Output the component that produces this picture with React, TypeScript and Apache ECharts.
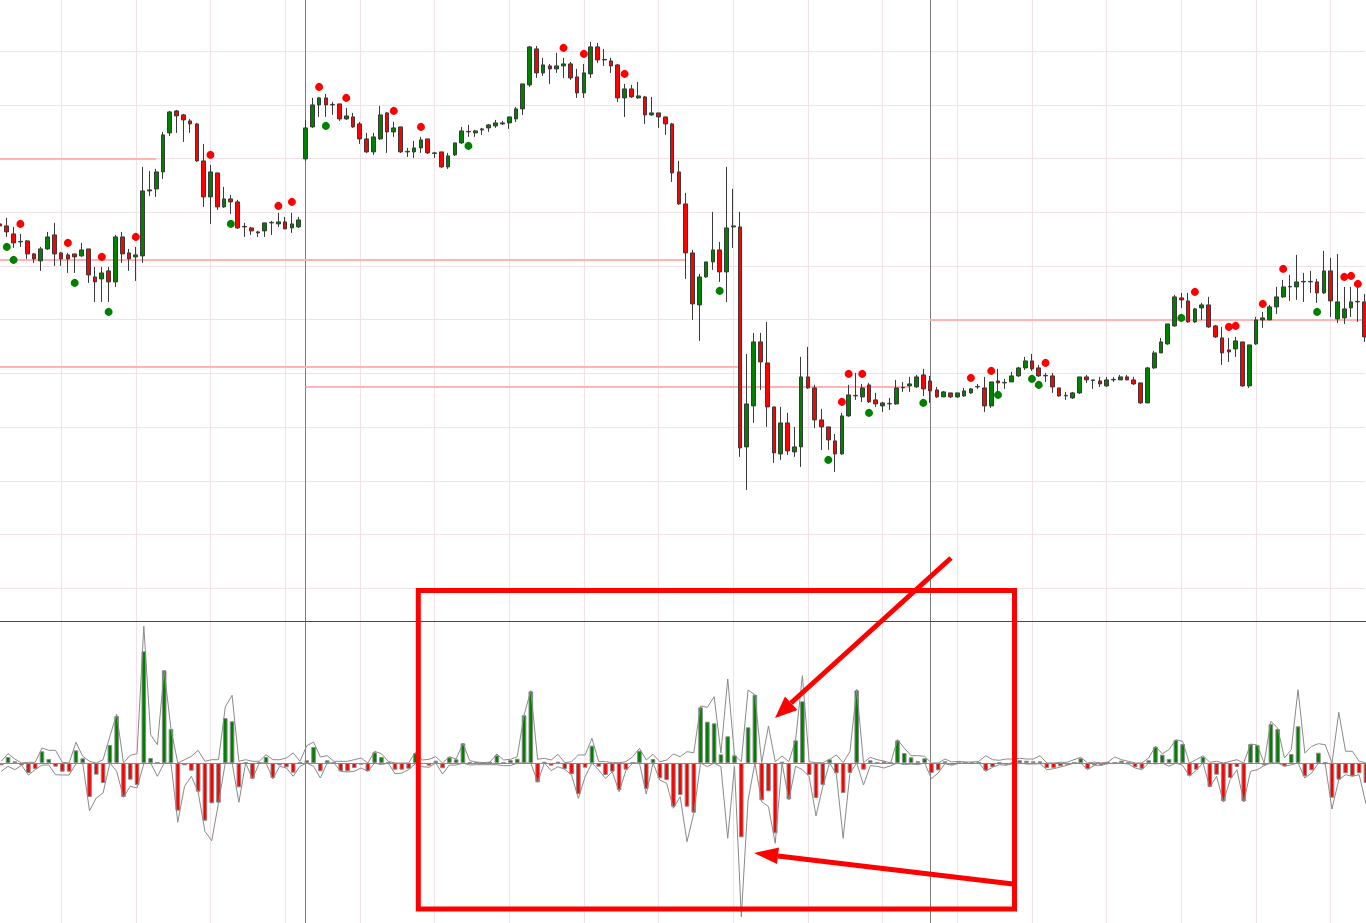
import React, { useEffect, useRef } from 'react';
import * as echarts from 'echarts';

// bar numbers
const barLabels: string[] = Array.from({ length: 202 }, (_, i) => String(i));

// [open, close, low, high]
const ohlc: number[][] = [
 [418,416,415,419],[416,410,405,424],[408,399,394,415],[400.5,400,395,408],[401,388,383,402],
 [388,383,379,389],[381,393,371,395],[393,405,392,410],[407,388,376,419],[389,383,376,390],
 [387,383,369,389],[388,385,369,388],[386,392,385,399],[393,367,359,393],[365,360,340,375],
 [363,369,340,375],[371,360,340,375],[360,405,355,407],[405,388,379,410],[389,383,371,393],
 [385,387,361,395],[386,451,379,475],[451,452,446,471],[453,470,445,473],[470,507,463,510],
 [509,530,506,531],[531,526,509,532],[527,522,500,528],[521,518,509,523],[518,481,480,519],
 [481,445,435,498],[445,470,418,477],[469,435,432,469],[435,443,434,455],[443,440,428,447],
 [440,414,413,442],[415,415.5,405,419],[414,411,407,415],[410,409,405,411],[411,419,405,419],
 [419,419.5,407,421],[418,420,415,429],[420,413,413,425],[414,418,409,429],[415,422,414,425],
 [483,514,481,522],[515,537,514,544],[537,544,525,545],[544,537,525,548],[537,537.5,527,540],
 [538,523,521,538],[523,526,522,534],[525,515,514,529],[518,503,498,520],[503,490,489,509],
 [490,505,487,509],[503,527,502,536],[529,510,489,530],[510,514,505,520],[515,490,489,515],
 [490,490.5,485,494],[490,494,484,501],[494,502,489,505],[503,489,488,503],[489,488.5,484,490],
 [490,475,474,490],[475,486,473,489],[487,499,486,499],[499,511,498,515],[510,510.5,505,517],
 [509,511,505,512],[512,513,507,514],[514,517,510,518],[516,519,514,522],[518,519,517,521],
 [519,525,513,525],[523,533,520,535],[533,558,527,558],[557,595,555,596],[593,569,564,596],
 [569,577,566,584],[576,573,558,578],[573,576,569,589],[576,578,564,584],[578,564,562,580],
 [565,549,544,573],[549,569,544,578],[568,595,564,600],[595,582,579,599],[582,582.5,576,593],
 [581,576,569,584],[577,544,540,578],[544,553,525,558],[553,545,544,557],[544,546,543,560],
 [545,527,518,546],[527,529,526,545],[529,525,514,529],[525,518,507,525],[518,469,460,519],
 [470,438,437,481],[438,389,363,449],[389,338,322,392],[337,365,301,368],[365,380,364,380],
 [380,392,372,430],[392,370,360,400],[370,414,340,475],[415,416,394,453],[415,194,185,430],
 [195,238,152,288],[236,300,219,309],[300,280,252,309],[279,235,215,320],[235,189,179,235],
 [188,219,182,235],[219,191,187,229],[190,195,185,215],[195,265,175,285],[265,254,253,295],
 [254,222,214,257],[222,215,192,233],[215,202,192,215],[201,188,170,208],[188,226,187,229],
 [226,247,225,257],[246,246.5,242,269],[245,254,240,258],[257,240,239,259],[242,238,235,249],
 [236,239,230,240],[238,238.5,232,244],[238,254,237,262],[254,254.5,250,260],[256,258,250,265],
 [255,265,254,267],[267,253,246,273],[261,251,239,266],[252,245,244,255],[245,250,245,251],
 [249,245,244,249],[245,249,244,249],[246,251,245,254],[249,253,248,254],[255,255.5,253,258],
 [254,236,230,265],[236,260,234,260],[261,259,250,273],[259,259.5,253,263],[260,266,260,270],
 [266,274,265,275],[274,281,272,285],[281,273,271,288],[274,266,265,277],[266,266.5,260,269],
 [266,255,249,269],[254,246,245,254],[246,246.5,242,250],[244,249,243,250],[249,265,248,265],
 [265,262,259,267],[262,261.5,253,262],[261,258,255,265],[256,262,255,265],[262,262.5,260,265],
 [262,265,262,267],[265,262,262,267],[262,258,257,265],[259,239,238,259],[239,274,239,275],
 [274,289,273,291],[289,300,289,304],[298,318,297,318],[316,345,315,347],[344,342,334,349],
 [341,320,319,349],[320,333,319,334],[334,337,322,339],[337,315,314,345],[316,305,304,317],
 [304,289,277,315],[292,290,280,304],[293,301,285,305],[300,256,255,300],[256,297,254,297],
 [298,322,297,325],[322,324,314,330],[322,335,322,337],[335,345,328,355],[345,355,344,362],
 [355,355.5,341,367],[355,360,342,387],[360,360.5,340,369],[360,360.5,349,371],[360,349,339,363],
 [349,371,348,391],[371,341,325,384],[323,340,319,388],[324,333,318,355],[334,340,325,355],
 [340,340.5,320,355],[340,305,300,348],
];

const redDotBars = [3, 10, 15, 20, 31, 41, 43, 47, 51, 58, 62, 83, 86, 92, 124, 125, 127, 143, 146, 154, 176, 181, 182, 186, 189, 198, 199, 200];
const redDotPrices = [418, 399, 385, 405, 487, 436, 440, 555, 544, 531, 515, 594, 588, 568, 240, 268, 268, 264, 271, 279, 350, 315, 316, 338, 373, 365, 366, 358];
const greenDotBars = [1, 2, 11, 16, 34, 48, 69, 106, 122, 128, 136, 147, 152, 153, 174, 194];
const greenDotPrices = [395, 382, 359, 330, 418, 516, 496, 351, 182, 229, 239, 247, 263, 257, 324, 330];

// horizontal price grid levels
const priceGrid = [53.7, 107.4, 161.1, 214.8, 268.5, 322.2, 375.9, 429.6, 483.3, 537, 590.7];
// session separators (bar numbers)
const sessionBars = [45, 137];
// support / resistance levels
const levelPrices = [483, 382, 275, 255, 322];
const levelFrom = [0, 0, 0, 45, 137];
const levelTo = [23, 101, 109, 134, 201];

// lower panel: delta histogram and its high / low envelopes
const delta = [
-2.3, 6, 1.7, -2.3, -10, -6, 11.7, 4, -3.7, -8.7,
-8.7, 12.7, 4.7, -34, -11.7, -20, 18, 47, -34, -16.7,
-22, 111.7, 5, 0.5, 92.7, 34, -47.7, -2.3, -7.7, -28.7,
-57.7, -40.3, -39.7, 45, 41.7, -24.3, 0.3, -15.7, 0.3, 6,
-15, -2.3, -4.3, -9.7, 0.3, 2.7, 16, -8.3, 2.7, 0.3,
-8.3, -8.3, -5, -1.7, -8.3, 10.7, 6, 0.3, -6.7, -6.7,
-5.7, 10, -1, -2.7, 2.3, -5.3, 5.7, 3.7, 19.7, 1,
1, 1, 1, 7.7, 0.3, 3, 4.3, 47.7, 71.7, -19.3,
1.3, -2.7, 1.3, -6, -11.3, -31, -4.7, 17.3, -3.7, -12,
-8.7, -27, -6.7, 0.3, 12.3, -26, 4, -15.3, -17, -43.7,
-32, -43.7, -49.7, 55.7, 41.3, 39.7, 8.7, 26.7, 7.7, -74.3,
35.7, 68.3, -37.3, -28.3, -70.3, 1.3, -36.3, 22.7, 61.7, -12,
-35, -22, 3.7, -10.3, -30, -10, 72.7, -6.7, 2.7, 0.3,
1.7, 0.3, 22.7, 10, 5.7, 1.7, 4.7, -10, -7.3, 1.7,
-1.7, 0.3, 0.3, 0.3, 0.3, -7.7, -4, 0.3, -1.7, 0.3,
2.7, 2.3, 1.7, 1.7, -5, -5, -3.3, -1.7, 0.3, 4.7,
-6, -2.3, -2.3, 0.3, 0.3, 2.3, 0.3, -4.3, -5.7, 2.7,
16.3, 8.3, 4, 23, 19, -12.7, -6.7, 6, -24, -11.7,
-38.3, -15, -4, -38.3, 19, 18, -2.3, 39, 34, -3.3,
9, 36.7, -13.3, -7.3, 10.3, 0.3, -34.7, -16.7, -10.3, -13.3,
-10.3, -20,
];

const deltaHigh = [
1.7, 9.3, 4, 0, 0.7, 0.7, 15, 12.7, 12.7, 0.7,
0, 20.7, 6.7, 1.7, 0, 3.3, 26.7, 49, 0, 7.7,
9.3, 136.7, 28.3, 18.3, 92.7, 34, 0, 3.3, 6.7, 12.7,
1.7, 3.3, 3.3, 56, 67.7, 1.7, 3.3, 1.7, 1.7, 8.3,
3.3, 3.3, 5, 10, 1.7, 17.3, 21, 6, 7.3, 1.7,
1.7, 1.7, 3.3, 5, 0, 11.7, 9.3, 1.7, 0, 0,
0, 10.7, 3, 3.7, 6.3, 0, 6.3, 4, 19.7, 2.3,
1, 0.3, 1, 9, 3, 3.7, 6.3, 48, 72.3, 3.7,
4.7, 3, 8.7, 0.3, 1.3, 8, 8, 24.7, 1.3, 1.3,
0.3, 0.3, 1.3, 6.3, 14.7, 3, 8.7, 1.3, 3, 9,
6.3, 11.3, 10.3, 57, 55.7, 66.3, 10, 84, 7.7, 1.3,
73, 68.3, 0.3, 37, 1.3, 7, 1.3, 23, 87.3, 1.3,
0.3, 0.3, 3.7, 8, 0.3, 11.3, 73.7, 0.3, 5.7, 3.3,
2, 0, 23.3, 15, 7.3, 7.3, 6.7, 0, 0, 4,
1, 1.7, 1, 1, 1.7, 7.3, 3.3, 2.7, 4, 4,
4.7, 4, 4, 7.3, 0, 0, 0.7, 0.7, 3.3, 5.7,
0, 1, 0, 1, 6, 3.3, 1.7, 0, 0, 5,
16.7, 9.3, 13.3, 23.3, 21.7, 0, 3.3, 7.3, 0.7, 1.7,
0, 1.7, 3.3, 0, 19, 18, 0, 41.7, 35, 5,
13.3, 73.3, 10, 16.7, 19.3, 18.3, 0, 50.7, 11.7, 11.7,
1.7, 0,
];

const deltaLow = [
-8.3, -3.3, -6.7, -2.3, -12, -6.7, -2, -2, -11.7, -12,
-12, -0.7, 0, -47.7, -35, -30, 0, -8.3, -34.3, -23.3,
-25, -0.7, 0, -13.3, 0, 0, -59.3, -23.3, -13.3, -29,
-68.3, -77.7, -40, 0, 0, -39.3, 0, -16, 0, 0,
-16, -3.3, -5, -13.3, -3.3, 0, -3.3, -15, 0, 0,
-8.3, -9, -8.3, -5, -8.3, 0, -1.7, 0, -10.7, -10,
-6.7, -0.7, -3.7, -4.3, 0, -11, -2, -2, 0, -2,
-1.7, -1.7, -1.7, -1.7, -2.7, -2.7, 0, 0, 0, -19.3,
0, -7.7, -3.7, -6.3, -12, -35.3, -13.7, 0, -7, -15.3,
-8.7, -28.7, -7.7, 0, 0, -31, 0, -17, -20.3, -45.3,
-33.7, -78.7, -50.3, 0, -3.7, 0, -3.7, -75.3, -3.3, -153.7,
-37, 0, -38.7, -43.7, -80.3, 0, -37, -3.3, -6.7, -13.7,
-53, -23.7, 0, -11, -75.3, -10.3, 0, -22, -2.7, -3.3,
-5, -2.7, 0, -1.7, -1, -1.7, 0, -15.7, -10, -0.7,
-2.3, -0.5, 0, -0.7, 0, -8.3, -4.3, -1.7, -2.3, -0.7,
0, -1, -1, -0.7, -6.7, -5.7, -4, -2.3, 0, 0,
-6.7, -2.3, -2.3, -0.7, 0, 0, -1, -5, -6.7, 0,
-1, 0, -3.3, 0, -2.3, -13.3, -7.3, 0, -24.3, -13.3,
-39, -16.7, -6.7, -39, -8.3, -6.7, -2.7, 0, 0, -3.3,
-1.7, 0, -15, -10, 0, -1, -46, -16.7, -11.7, -13.3,
-11.7, -40.7,
];

const GRID = '#f0e2e6';
const UP = '#008000';
const DOWN = '#ff0000';
const EDGE = '#3a3a3a';
const ENV = '#8a8a8a';
const STEP = 6.795;

const hiddenAxis = { axisLine: { show: false }, axisTick: { show: false }, axisLabel: { show: false }, splitLine: { show: false } };

function arrow(x1: number, y1: number, bx: number, by: number, tip: number[], c1: number[], c2: number[]) {
  return [
    { type: 'line', z: 100, shape: { x1, y1, x2: bx, y2: by }, style: { stroke: '#ff0000', lineWidth: 5 } },
    { type: 'polygon', z: 100, shape: { points: [tip, c1, c2] }, style: { fill: '#ff0000' } },
  ];
}

export default function App() {
  const ref = useRef<HTMLDivElement>(null);
  useEffect(() => {
    const chart = echarts.init(ref.current as HTMLDivElement, null, { renderer: 'svg' });
    const option: any = {
      animation: false,
      backgroundColor: '#ffffff',
      grid: [
        { left: -1.16, top: 0, width: STEP * 201, height: 923 },
        { left: 1.24, top: 621, width: 1364.7, height: 302 },
      ],
      xAxis: [
        {
          type: 'category', gridIndex: 0, data: barLabels, boundaryGap: false,
          axisLine: { show: false }, axisTick: { show: false }, axisLabel: { show: false },
          splitLine: { show: true, interval: (i: number) => (i - 9) % 11 === 0, lineStyle: { color: GRID, width: 1 } },
        },
        {
          type: 'category', gridIndex: 1, data: barLabels, boundaryGap: false,
          axisLine: { show: true, onZero: true, lineStyle: { color: ENV, width: 1 } },
          axisTick: { show: false }, axisLabel: { show: false }, splitLine: { show: false },
        },
      ],
      yAxis: [
        { type: 'value', gridIndex: 0, min: -281.1, max: 641.9, ...hiddenAxis },
        { type: 'value', gridIndex: 1, min: -160, max: 142, ...hiddenAxis },
      ],
      series: [
        {
          type: 'line', xAxisIndex: 0, yAxisIndex: 0, data: [], silent: true,
          markLine: {
            z: 1, silent: true, symbol: 'none', label: { show: false },
            lineStyle: { color: GRID, width: 1, type: 'solid' },
            data: priceGrid.map((v) => ({ yAxis: v })),
          },
        },
        {
          type: 'line', xAxisIndex: 0, yAxisIndex: 0, data: [], silent: true,
          markLine: {
            z: 1, silent: true, symbol: 'none', label: { show: false },
            lineStyle: { color: '#7c7c7c', width: 1, type: 'solid' },
            data: sessionBars.map((b) => ({ xAxis: b })),
          },
        },
        {
          type: 'line', xAxisIndex: 0, yAxisIndex: 0, data: [], silent: true,
          markLine: {
            z: 1, silent: true, symbol: 'none', label: { show: false },
            lineStyle: { color: '#ffb3b3', width: 2, type: 'solid' },
            data: levelPrices.map((p, k) => [{ coord: [levelFrom[k], p] }, { coord: [levelTo[k], p] }]),
          },
        },
        {
          type: 'candlestick', xAxisIndex: 0, yAxisIndex: 0, data: ohlc, barWidth: 4.2, z: 3,
          itemStyle: { color: UP, color0: DOWN, borderColor: EDGE, borderColor0: EDGE, borderColorDoji: EDGE, borderWidth: 1 },
        },
        {
          type: 'scatter', xAxisIndex: 0, yAxisIndex: 0, z: 4, symbolSize: 8,
          itemStyle: { color: '#ff0000', opacity: 1 },
          data: redDotBars.map((b, k) => [b, redDotPrices[k]]),
        },
        {
          type: 'scatter', xAxisIndex: 0, yAxisIndex: 0, z: 4, symbolSize: 8,
          itemStyle: { color: '#008000', opacity: 1 },
          data: greenDotBars.map((b, k) => [b, greenDotPrices[k]]),
        },
        {
          type: 'bar', xAxisIndex: 1, yAxisIndex: 1, data: delta, barWidth: 4.6, z: 2,
          itemStyle: {
            color: (p: any) => (p.value >= 0 ? UP : DOWN),
            borderColor: ENV, borderWidth: 1,
          },
        },
        {
          type: 'line', xAxisIndex: 1, yAxisIndex: 1, data: deltaHigh, z: 3, symbol: 'none',
          lineStyle: { color: ENV, width: 1 },
        },
        {
          type: 'line', xAxisIndex: 1, yAxisIndex: 1, data: deltaLow, z: 3, symbol: 'none',
          lineStyle: { color: ENV, width: 1 },
        },
      ],
      graphic: [
        { type: 'line', z: 50, shape: { x1: 0, y1: 621.5, x2: 1366, y2: 621.5 }, style: { stroke: '#4a4a4a', lineWidth: 1 } },
        { type: 'rect', z: 100, shape: { x: 418.3, y: 590.5, width: 596.2, height: 318.5 }, style: { fill: 'none', stroke: '#ff0000', lineWidth: 5 } },
        ...arrow(951, 558, 791, 703, [775, 718], [785, 696.5], [797.5, 710]),
        ...arrow(1013, 884, 778, 856, [754, 853], [779, 847.5], [777, 864]),
      ],
    };
    chart.setOption(option);
    return () => chart.dispose();
  }, []);
  return <div ref={ref} style={{ position: 'fixed', left: 0, top: 0, width: 1366, height: 923, background: '#fff' }} />;
}
